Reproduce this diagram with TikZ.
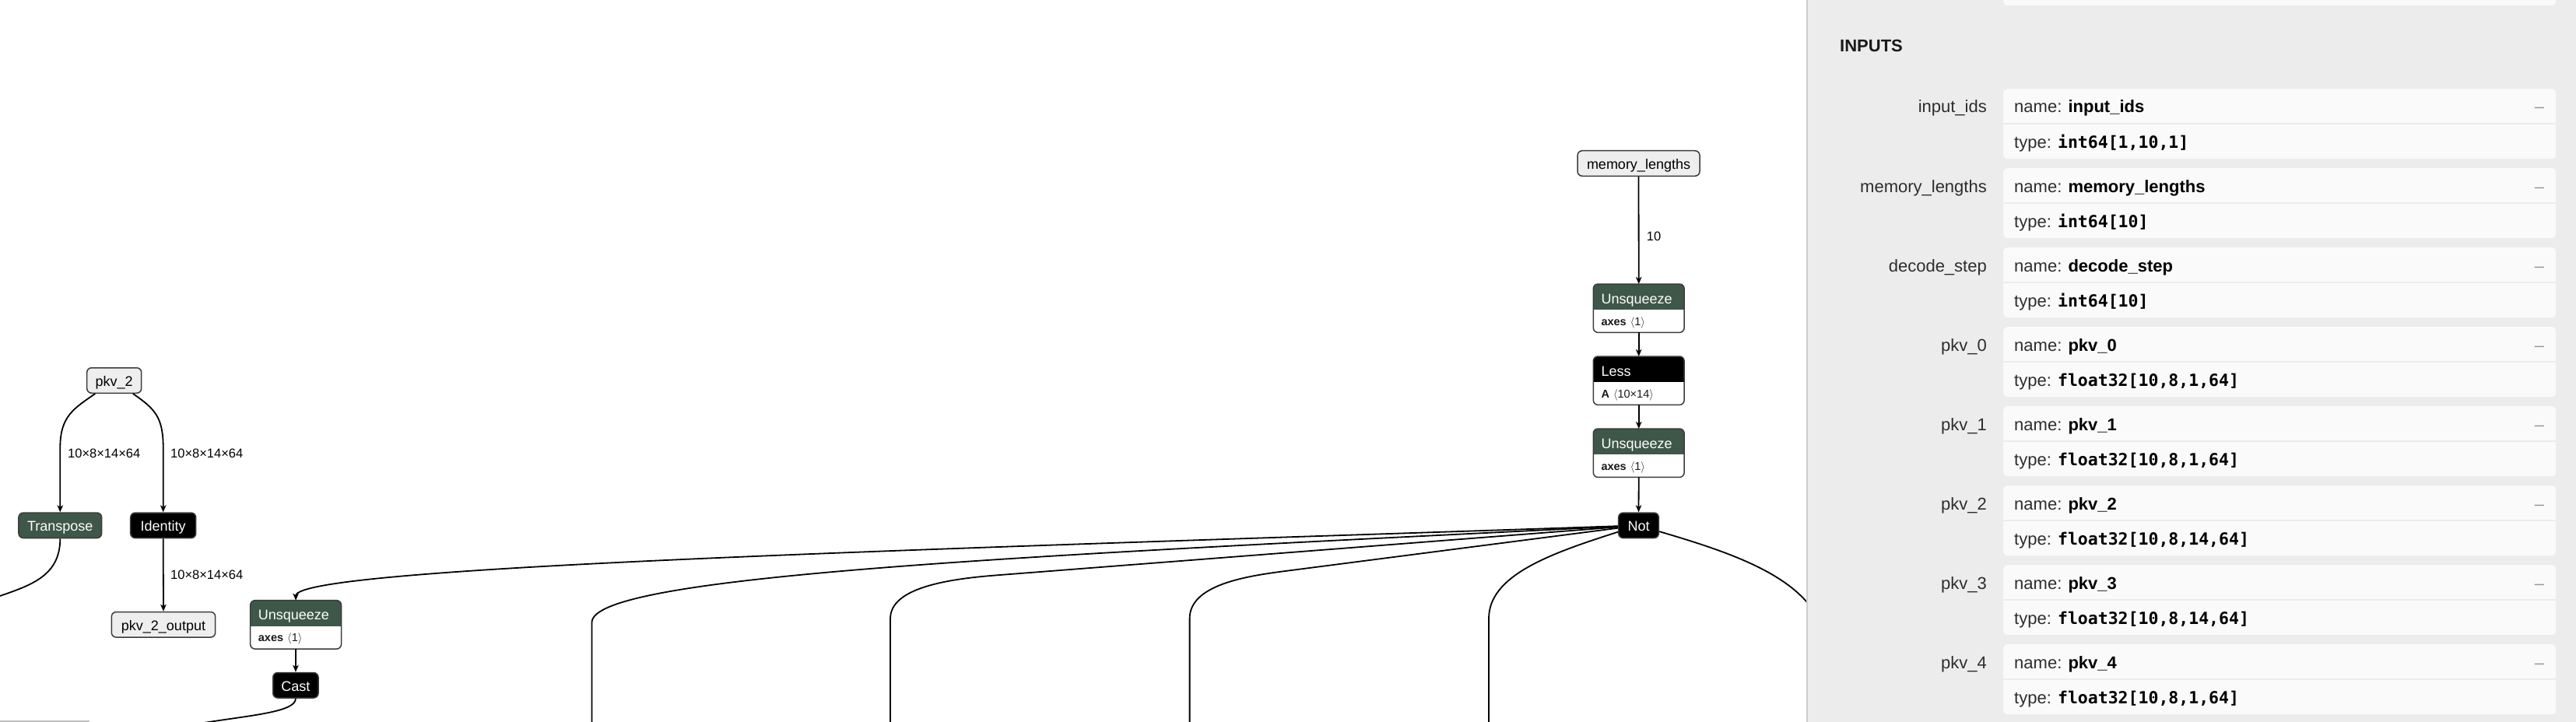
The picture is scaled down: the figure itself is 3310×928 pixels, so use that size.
\documentclass[tikz,border=0pt]{standalone}
\usepackage{fontspec}
\setmainfont{Liberation Sans}
\newfontfamily\monob{DejaVu Sans Mono}
\usetikzlibrary{arrows.meta}
\definecolor{opgreen}{RGB}{62,87,72}
\definecolor{panelbg}{RGB}{236,236,236}
\definecolor{cardbg}{RGB}{250,250,250}
\definecolor{nodeborder}{RGB}{60,60,60}
\definecolor{lightfill}{RGB}{238,238,238}
\definecolor{paneltext}{RGB}{45,45,45}
\definecolor{panelline}{RGB}{205,205,205}
\definecolor{dashgrey}{RGB}{150,150,150}
\tikzset{
  edge/.style={line width=1.8pt, draw=black},
  arr/.style={edge, -{Stealth[length=9pt,width=7.5pt,inset=2.5pt]}},
  basebox/.style={draw=nodeborder, line width=1.5pt, rounded corners=6pt, inner sep=0pt,
    minimum height=32.5pt, text height=15pt, text depth=0pt, font=\fontsize{18}{20}\selectfont},
  io/.style={basebox, fill=lightfill, text=black},
  blk/.style={basebox, fill=black, text=white},
  grn/.style={basebox, fill=opgreen, text=white},
  elabel/.style={font=\fontsize{16.5}{18}\selectfont, anchor=west, inner sep=0pt},
  twobox/.style={minimum width=116.4pt, minimum height=62pt, inner sep=0pt, draw=none},
  card/.style={fill=cardbg, rounded corners=5pt, minimum width=710pt, minimum height=90pt, inner sep=0pt, draw=none},
  ptext/.style={inner sep=0pt, font=\fontsize{22}{24}\selectfont, text=paneltext},
}
\newcommand{\optwo}[6]{%
  \node[twobox, anchor=north west] (#1) at (#2,#3) {};
  \begin{scope}
    \clip[rounded corners=6pt] (#1.north west) rectangle (#1.south east);
    \fill[white] (#1.north west) rectangle (#1.south east);
    \fill[#4] (#1.north west) rectangle ([yshift=-33.4pt]#1.north east);
  \end{scope}
  \draw[draw=nodeborder, line width=1.5pt, rounded corners=6pt] (#1.north west) rectangle (#1.south east);
  \node[anchor=base west, inner sep=0pt, text=white, font=\fontsize{18}{20}\selectfont] (#1t) at ([xshift=10pt,yshift=-25pt]#1.north west) {#5};
  \node[anchor=base west, inner sep=0pt, text=black!90, font=\fontsize{14.5}{16}\selectfont] (#1a) at ([xshift=10pt,yshift=-53pt]#1.north west) {#6};
}
\begin{document}
\begin{tikzpicture}[x=1pt,y=-1pt]
\useasboundingbox (0,0) rectangle (3310,928);
\fill[white] (0,0) rectangle (3310,928);

% ---------- left cluster ----------
\node[io, minimum width=70pt] (pkv2) at (146.7,489) {pkv\_2};
\node[grn, minimum width=106.7pt] (tr) at (77.3,675.3) {Transpose};
\node[blk, minimum width=84pt] (idn) at (209.7,675.3) {Identity};
\node[io, minimum width=133.4pt] (pout) at (210,802.8) {pkv\_2\_output};
\optwo{u1}{321.7}{771.7}{opgreen}{Unsqueeze}{\textbf{axes}\hspace{5pt}$\langle$1$\rangle$}
\node[blk, minimum width=58.3pt] (cast) at (379.9,880.8) {Cast};

\draw[arr] (pkv2) .. controls (95,525) and (77.3,535) .. (77.3,575) -- (tr.north);
\draw[arr] (pkv2) .. controls (198,525) and (209.7,535) .. (209.7,575) -- (idn.north);
\draw[arr] (idn.south) -- (pout.north);
\draw[arr] (u1.south) -- (cast.north);
\node[elabel] (l1) at (87,583) {10×8×14×64};
\node[elabel] (l2) at (219,583) {10×8×14×64};
\node[elabel] (l3) at (219,739) {10×8×14×64};

\coordinate (trend) at (0,766);
\draw[edge] (tr.south) .. controls (77.3,740) and (40,752) .. (trend);
\coordinate (castend) at (262,929);
\draw[edge] (cast.south) .. controls (379.9,915) and (325,919) .. (castend);
\draw[draw=black!25, line width=2pt] (0,927) -- (115,927);

% ---------- right column ----------
\node[io, minimum width=157pt] (mem) at (2105.5,210) {memory\_lengths};
\optwo{u2}{2047.3}{365}{opgreen}{Unsqueeze}{\textbf{axes}\hspace{5pt}$\langle$1$\rangle$}
\optwo{less}{2047.3}{458}{black}{Less}{\textbf{A}\hspace{5pt}$\langle$10×14$\rangle$}
\optwo{u3}{2047.3}{551}{opgreen}{Unsqueeze}{\textbf{axes}\hspace{5pt}$\langle$1$\rangle$}
\node[blk, minimum width=51.7pt] (notn) at (2105.5,675.3) {Not};

\draw[arr] (mem.south) -- (u2.north);
\node[elabel] (l10) at (2115.7,304.3) {10};
\draw[arr] (u2.south) -- (less.north);
\draw[arr] (less.south) -- (u3.north);
\draw[arr] (u3.south) -- (notn.north);

% ---------- edges from Not ----------
\draw[arr] (notn) .. controls (1200,706) and (379.9,728) .. (u1.north);
\coordinate (b1) at (760.5,928);
\draw[edge] (notn) .. controls (1300,715) and (760.5,740) .. (760.5,800) -- (b1);
\coordinate (b2) at (1144,928);
\draw[edge] (notn) -- (1280,739.4) .. controls (1220,744.1) and (1144,755) .. (1144,795) -- (b2);
\coordinate (b3) at (1528.6,928);
\draw[edge] (notn) -- (1650,734.2) .. controls (1600,740.7) and (1528.6,752) .. (1528.6,795) -- (b3);
\coordinate (b4) at (1913,928);
\draw[edge] (notn) .. controls (1990,712) and (1913,740) .. (1913,795) -- (b4);
\coordinate (b5) at (2345,820);
\draw[edge] (notn) .. controls (2230,712) and (2330,745) .. (b5);

% ---------- side panel ----------
\fill[panelbg] (2322,0) rectangle (3310,928);
\draw[panelline, line width=2.5pt] (2322,0) -- (2322,928);
\fill[cardbg, rounded corners=5pt] (2574,-30) rectangle (3284,7);
\node[anchor=base west, inner sep=0pt, font=\fontsize{22}{24}\selectfont\bfseries, text=black!90] (inputs) at (2364,67) {INPUTS};

\foreach \i/\nm/\ty in {0/input\_ids/{int64[1,10,1]},
                        1/memory\_lengths/{int64[10]},
                        2/decode\_step/{int64[10]},
                        3/pkv\_0/{float32[10,8,1,64]},
                        4/pkv\_1/{float32[10,8,1,64]},
                        5/pkv\_2/{float32[10,8,14,64]},
                        6/pkv\_3/{float32[10,8,14,64]},
                        7/pkv\_4/{float32[10,8,1,64]}} {
  \pgfmathsetmacro{\cy}{114+102*\i}
  \node[card, anchor=north west] (card\i) at (2574,\cy) {};
  \draw[panelbg, line width=2.5pt] ([yshift=-45pt]card\i.north west) -- ([yshift=-45pt]card\i.north east);
  \node[ptext, anchor=base east] (lab\i) at (2553,\cy+31) {\nm};
  \node[ptext, anchor=base west] (nm\i) at (2588,\cy+31) {name: \textcolor{black}{\bfseries\nm}};
  \node[ptext, anchor=base west] (ty\i) at (2588,\cy+76) {type: \textcolor{black}{\fontsize{21.5}{24}\selectfont\monob\bfseries \ty}};
  \node[ptext, anchor=base, text=dashgrey] (dash\i) at (3263,\cy+31) {–};
}
\end{tikzpicture}
\end{document}
